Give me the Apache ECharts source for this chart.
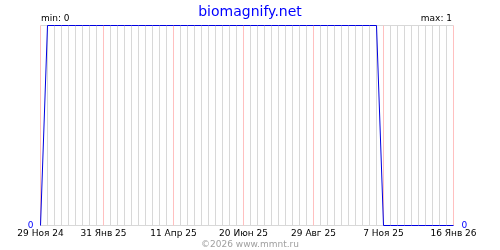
<!DOCTYPE html>
<html>
<head>
<meta charset="utf-8">
<script src="https://cdn.jsdelivr.net/npm/echarts@6/dist/echarts.min.js"></script>
<style>html,body{margin:0;padding:0;background:#fff;}#c{width:500px;height:250px;}</style>
</head>
<body>
<div id="c"></div>
<script>
var categories = ['29 Ноя 24','6 Дек 24','13 Дек 24','20 Дек 24','27 Дек 24','3 Янв 25','10 Янв 25','17 Янв 25','24 Янв 25','31 Янв 25',
'7 Фев 25','14 Фев 25','21 Фев 25','28 Фев 25','7 Мар 25','14 Мар 25','21 Мар 25','28 Мар 25','4 Апр 25','11 Апр 25',
'18 Апр 25','25 Апр 25','2 Май 25','9 Май 25','16 Май 25','23 Май 25','30 Май 25','6 Июн 25','13 Июн 25','20 Июн 25',
'27 Июн 25','4 Июл 25','11 Июл 25','18 Июл 25','25 Июл 25','1 Авг 25','8 Авг 25','15 Авг 25','22 Авг 25','29 Авг 25',
'5 Сен 25','12 Сен 25','19 Сен 25','26 Сен 25','3 Окт 25','10 Окт 25','17 Окт 25','24 Окт 25','31 Окт 25','7 Ноя 25',
'14 Ноя 25','21 Ноя 25','28 Ноя 25','5 Дек 25','12 Дек 25','19 Дек 25','26 Дек 25','2 Янв 26','9 Янв 26','16 Янв 26'];
var values = [0,1,1,1,1,1,1,1,1,1,
1,1,1,1,1,1,1,1,1,1,
1,1,1,1,1,1,1,1,1,1,
1,1,1,1,1,1,1,1,1,1,
1,1,1,1,1,1,1,1,1,0,
0,0,0,0,0,0,0,0,0,0];
var tickLabels = ['29 Ноя 24','31 Янв 25','11 Апр 25','20 Июн 25','29 Авг 25','7 Ноя 25','16 Янв 26'];
var titleText = 'biomagnify.net';
var minText = 'min: 0';
var maxText = 'max: 1';
var footerText = '©2026 www.mmnt.ru';

var FONT = 'DejaVu Sans';
function isTick(i, v) { return tickLabels.indexOf(categories[i]) >= 0; }
function notTick(i, v) { return !isTick(i, v); }

var chart = echarts.init(document.getElementById('c'), null, {renderer: 'canvas'});
chart.setOption({
  animation: false,
  backgroundColor: '#ffffff',
  grid: {left: 40.5, top: 25.5, width: 413, height: 200, containLabel: false},
  title: [
    {text: titleText, left: 'center', top: 0, textStyle: {fontFamily: FONT, fontSize: 14, fontWeight: 'normal', color: '#0000ff'}},
    {text: footerText, left: 'center', top: 235, textStyle: {fontFamily: FONT, fontSize: 9, fontWeight: 'normal', color: '#a0a0a0'}}
  ],
  graphic: [
    {type: 'text', left: 41, top: 14, style: {text: minText, font: '9px "DejaVu Sans"', fill: '#000'}},
    {type: 'text', right: 48, top: 14, style: {text: maxText, font: '9px "DejaVu Sans"', fill: '#000'}}
  ],
  xAxis: [
    {type: 'category', data: categories, boundaryGap: false, position: 'bottom',
     axisLine: {show: false}, axisTick: {show: false},
     axisLabel: {interval: isTick, fontFamily: FONT, fontSize: 9, color: '#000', margin: 4},
     splitLine: {show: true, interval: notTick, lineStyle: {color: '#d8d8d8', width: 1}}},
    {type: 'category', data: categories, boundaryGap: false, position: 'top',
     axisLine: {show: false}, axisTick: {show: false},
     axisLabel: {show: false},
     splitLine: {show: true, interval: isTick, lineStyle: {color: '#ffc0c0', width: 1}}}
  ],
  yAxis: {
    type: 'value', min: 0, max: 1, interval: 1,
    axisLine: {show: false}, axisTick: {show: false},
    axisLabel: {fontFamily: FONT, fontSize: 9, color: '#0000ff', margin: 7,
      formatter: function (v) { return v === 0 ? '0' : ''; }},
    splitLine: {show: true, lineStyle: {color: '#d8d8d8', width: 1}}
  },
  series: [{
    type: 'line', data: values, xAxisIndex: 0, showSymbol: false, symbol: 'none',
    lineStyle: {color: '#0000e0', width: 1},
    itemStyle: {color: '#0000e0'},
    endLabel: {show: true, distance: 8, fontFamily: FONT, fontSize: 9, color: '#0000ff',
      formatter: function (p) { return String(p.value); }},
    z: 5
  }]
});
</script>
</body>
</html>
